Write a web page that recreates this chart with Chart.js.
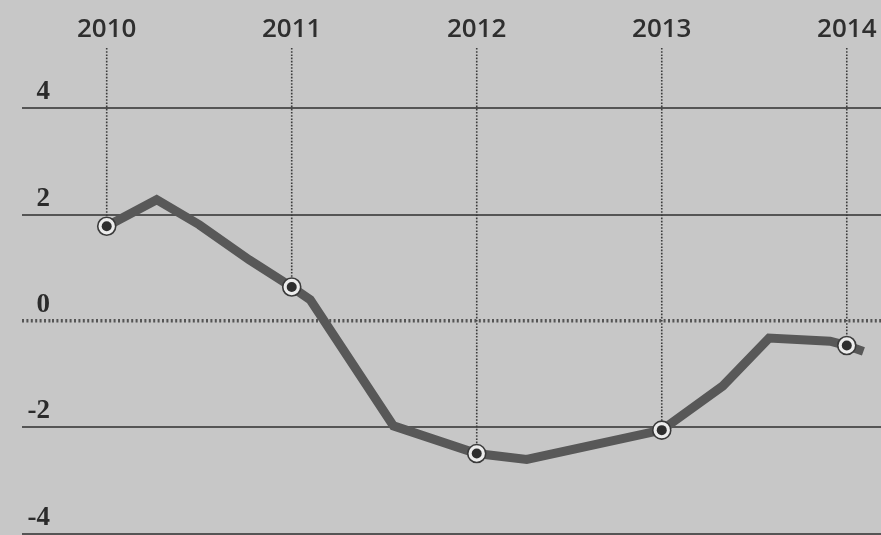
<!DOCTYPE html>
<html>
<head>
<meta charset="utf-8">
<script src="https://cdn.jsdelivr.net/npm/chart.js@4/dist/chart.umd.min.js"></script>
<style>
  html, body { margin: 0; padding: 0; background: #c7c7c7; }
  #wrap { width: 881px; height: 535px; }
</style>
</head>
<body>
<div id="wrap"><canvas id="c" width="881" height="535"></canvas></div>
<script>
// ---- data ----
const yearTicks = [2010, 2011, 2012, 2013, 2014];
const valueTicks = [-4, -2, 0, 2, 4];
const curveX = [2010.00, 2010.27, 2010.50, 2010.77, 2011.00, 2011.10, 2011.55, 2012.00, 2012.27, 2013.00, 2013.33, 2013.58, 2013.91, 2014.00, 2014.09];
const curveY = [1.78, 2.28, 1.81, 1.15, 0.64, 0.40, -1.97, -2.49, -2.60, -2.05, -1.22, -0.32, -0.38, -0.46, -0.57];

const curve = curveX.map((x, i) => ({ x: x, y: curveY[i] }));
const markers = curve.filter(p => yearTicks.includes(p.x));

const isZero = ctx => ctx.tick && ctx.tick.value === 0;
const noPad = s => { s.paddingLeft = 0; s.paddingRight = 0; s.paddingTop = 0; s.paddingBottom = 0; };

const bgPlugin = {
  id: 'bg',
  beforeDraw(chart) {
    const ctx = chart.ctx;
    ctx.save();
    ctx.fillStyle = '#c7c7c7';
    ctx.fillRect(0, 0, chart.width, chart.height);
    ctx.restore();
  }
};

const dropLines = {
  id: 'dropLines',
  beforeDatasetsDraw(chart) {
    const ctx = chart.ctx;
    const xs = chart.scales.x, ys = chart.scales.y;
    ctx.save();
    ctx.strokeStyle = '#3c3c3c';
    ctx.lineWidth = 1.6;
    ctx.setLineDash([1.6, 1.6]);
    markers.forEach(p => {
      const px = xs.getPixelForValue(p.x);
      ctx.beginPath();
      ctx.moveTo(px, chart.chartArea.top);
      ctx.lineTo(px, ys.getPixelForValue(p.y));
      ctx.stroke();
    });
    ctx.restore();
  }
};

new Chart(document.getElementById('c'), {
  type: 'line',
  data: {
    datasets: [
      {
        data: markers,
        showLine: false,
        pointRadius: 5,
        pointBackgroundColor: '#2e2e2e',
        pointBorderWidth: 0,
        order: 1
      },
      {
        data: markers,
        showLine: false,
        pointRadius: 9,
        pointBackgroundColor: '#ececec',
        pointBorderColor: '#3a3a3a',
        pointBorderWidth: 1.6,
        order: 2
      },
      {
        data: curve,
        borderColor: '#585858',
        borderWidth: 9,
        borderJoinStyle: 'miter',
        borderCapStyle: 'butt',
        tension: 0,
        pointRadius: 0,
        fill: false,
        order: 3
      }
    ]
  },
  options: {
    responsive: false,
    animation: false,
    events: [],
    layout: { padding: 0, autoPadding: false },
    plugins: { legend: { display: false }, tooltip: { enabled: false } },
    scales: {
      x: {
        type: 'linear',
        position: 'top',
        min: 2009.7043,
        max: 2014.185,
        afterBuildTicks(scale) { scale.ticks = yearTicks.map(v => ({ value: v })); },
        afterFit(scale) { scale.height = 48; noPad(scale); },
        grid: { display: false, drawTicks: false },
        border: { display: false },
        ticks: {
          padding: 3,
          color: '#2f2f2f',
          font: { family: 'Open Sans', size: 26, weight: '600' },
          callback: v => String(v),
          maxRotation: 0,
          autoSkip: false
        }
      },
      y: {
        type: 'linear',
        position: 'left',
        min: -4.02,
        max: 5.13,
        afterBuildTicks(scale) { scale.ticks = valueTicks.map(v => ({ value: v })); },
        afterFit(scale) { scale.width = 52; noPad(scale); },
        grid: {
          drawTicks: true,
          tickLength: 30,
          color: '#555555',
          tickColor: '#555555',
          lineWidth: ctx => isZero(ctx) ? 3.5 : 2,
          tickWidth: ctx => isZero(ctx) ? 3.5 : 2,
          tickBorderDash: ctx => isZero(ctx) ? [2, 2.4] : []
        },
        border: {
          display: false,
          dash: ctx => isZero(ctx) ? [2, 2.4] : []
        },
        ticks: {
          padding: -28,
          labelOffset: -16,
          color: '#2b2b2b',
          font: { family: 'Liberation Serif', size: 27, weight: 'bold' },
          callback: v => String(v),
          autoSkip: false
        }
      }
    }
  },
  plugins: [bgPlugin, dropLines]
});
</script>
</body>
</html>
